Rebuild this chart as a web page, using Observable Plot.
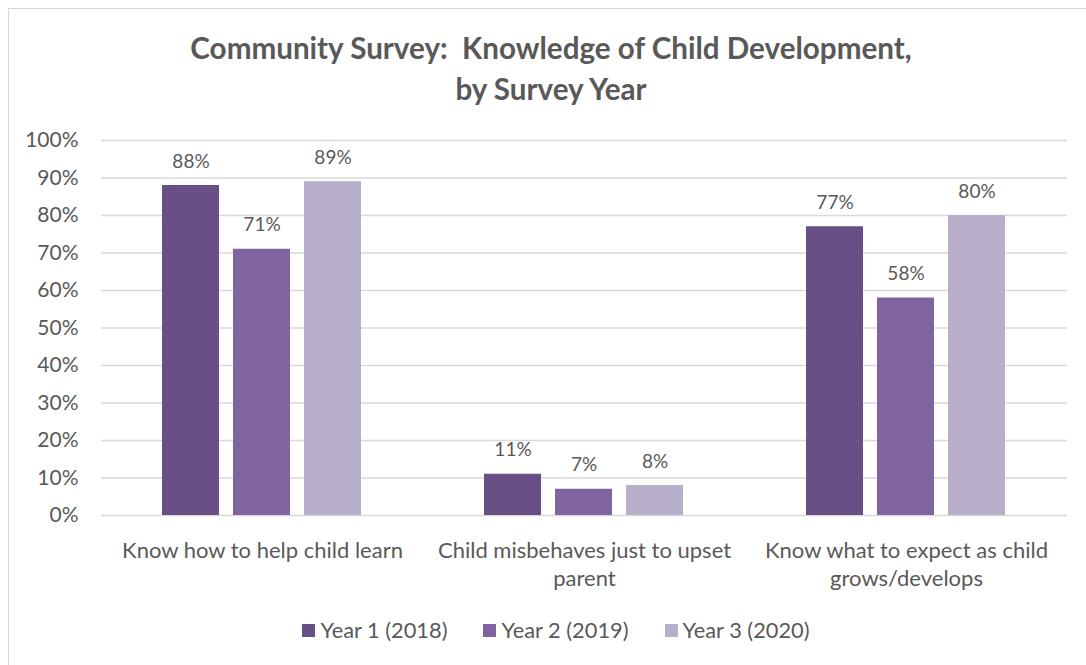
<!DOCTYPE html>
<html>
<head>
<meta charset="utf-8">
<script src="https://cdn.jsdelivr.net/npm/d3@7"></script>
<script src="https://cdn.jsdelivr.net/npm/@observablehq/plot@0.6"></script>
<style>
  html, body { margin: 0; padding: 0; background: #fff; overflow: hidden; }
  body { width: 1086px; height: 665px; position: relative; font-family: Lato, "Open Sans", sans-serif; color: #595959; }
  #frame { position: absolute; left: 8px; top: 8px; width: 1200px; height: 800px; border: 1.5px solid #d9d9d9; box-sizing: border-box; }
  #title { position: absolute; left: 0; top: 27px; width: 1102px; text-align: center; font-weight: 700; font-size: 29.6px; line-height: 41px; color: #595959; white-space: pre; }
  #chart { position: absolute; left: 0; top: 0; }
  #legend { position: absolute; left: 0; top: 616px; width: 1112px; display: flex; justify-content: center; font-size: 21.8px; line-height: 28px; color: #595959; }
  .item { display: flex; align-items: center; margin: 0 18px; }
  .sw { width: 13px; height: 13px; margin-right: 5px; }
</style>
</head>
<body>
<div id="frame"></div>
<div id="chart"></div>
<div id="title"></div>
<div id="legend"></div>
<script>
// ---- data ----
const titleLines = ["Community Survey:  Knowledge of Child Development,", "by Survey Year"];
const categories = ["Know how to help child learn", "Child misbehaves just to upset parent", "Know what to expect as child grows/develops"];
const categoryTickLabels = ["Know how to help child learn", "Child misbehaves just to upset\nparent", "Know what to expect as child\ngrows/develops"];
const years = ["Year 1 (2018)", "Year 2 (2019)", "Year 3 (2020)"];
const year1 = [0.88, 0.11, 0.77];
const year2 = [0.71, 0.07, 0.58];
const year3 = [0.89, 0.08, 0.80];
const colors = ["#684f86", "#8064a2", "#b8afca"];
const yTicks = [0, 0.1, 0.2, 0.3, 0.4, 0.5, 0.6, 0.7, 0.8, 0.9, 1.0];

// ---- table ----
const series = [year1, year2, year3];
const rows = [];
categories.forEach((c, i) => years.forEach((y, j) => rows.push({category: c, year: y, value: series[j][i]})));
const tickLabel = new Map(categories.map((c, i) => [c, categoryTickLabels[i]]));

const textColor = "#595959";
const gridColor = "#d9d9d9";

const chart = Plot.plot({
  width: 1086,
  height: 665,
  marginLeft: 101,
  marginRight: 19,
  marginTop: 140,
  marginBottom: 150,
  style: {fontFamily: "Lato, 'Open Sans', sans-serif", color: textColor, background: "transparent"},
  fx: {domain: categories, padding: 0, label: null, axis: null},
  x: {domain: years, paddingInner: 0.197, paddingOuter: 0.866, axis: null},
  y: {domain: [0, 1], axis: null},
  color: {domain: years, range: colors},
  marks: [
    Plot.gridY(yTicks, {stroke: gridColor, strokeOpacity: 1, strokeWidth: 1.5}),
    Plot.barY(rows, {fx: "category", x: "year", y: "value", fill: "year"}),
    Plot.text(rows, {fx: "category", x: "year", y: "value", text: d => Math.round(d.value * 100) + "%", lineAnchor: "bottom", dy: -18, fontSize: 19, fill: textColor}),
    Plot.axisY({ticks: yTicks, tickFormat: d => Math.round(d * 100) + "%", tickSize: 0, tickPadding: 23, fontSize: 21, fill: textColor, label: null}),
    Plot.axisFx({anchor: "bottom", domain: categories, tickFormat: d => tickLabel.get(d), tickSize: 0, tickPadding: 23, fontSize: 22, lineHeight: 1.27, fill: textColor, label: null})
  ]
});
document.getElementById("chart").appendChild(chart);

document.getElementById("title").textContent = titleLines.join("\n");

const legend = document.getElementById("legend");
years.forEach((y, j) => {
  const item = document.createElement("div");
  item.className = "item";
  const sw = document.createElement("div");
  sw.className = "sw";
  sw.style.background = colors[j];
  const t = document.createElement("span");
  t.textContent = y;
  item.appendChild(sw);
  item.appendChild(t);
  legend.appendChild(item);
});
</script>
</body>
</html>
